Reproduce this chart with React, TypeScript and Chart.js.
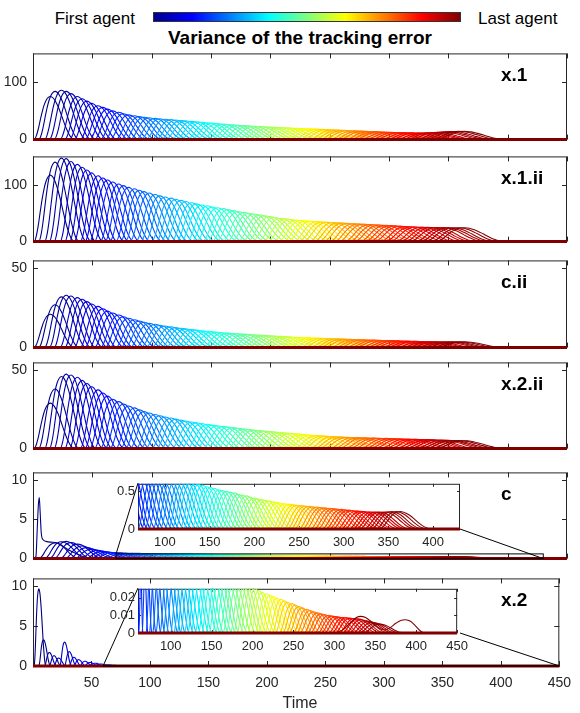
import React, { useEffect, useRef } from 'react';
import { Chart, registerables } from 'chart.js';

Chart.register(...registerables);

const FONT = "'Liberation Sans', Arial, Helvetica, sans-serif";
const AXIS_COLOR = '#262626';

// ---------- data ----------
// time at which each agent's error curve starts (80 agents)
const agentOnset = [
  1, 5, 10, 14, 18, 23, 27, 31, 35, 40,
  44, 48, 52, 57, 61, 65, 70, 74, 78, 82,
  87, 91, 95, 100, 104, 108, 112, 117, 121, 125,
  130, 134, 138, 143, 147, 151, 155, 160, 164, 168,
  173, 177, 181, 185, 190, 194, 198, 203, 207, 211,
  215, 220, 224, 228, 233, 237, 241, 245, 250, 254,
  258, 263, 267, 271, 276, 280, 284, 288, 293, 297,
  301, 306, 310, 314, 318, 323, 327, 331, 336, 340,
];
// duration of each agent's bump
const bumpWidth = [
  34, 34, 35, 35, 35, 36, 36, 36, 36, 37,
  37, 37, 38, 38, 38, 39, 39, 39, 39, 40,
  40, 40, 41, 41, 41, 42, 42, 42, 42, 43,
  43, 43, 44, 44, 44, 45, 45, 45, 45, 46,
  46, 46, 47, 47, 47, 48, 48, 48, 48, 49,
  49, 49, 50, 50, 50, 51, 51, 51, 51, 52,
  52, 52, 53, 53, 53, 54, 54, 54, 54, 55,
  55, 55, 56, 56, 56, 57, 57, 57, 57, 58,
];
const bumpWidthX2 = [
  10, 10, 10, 10, 10, 10, 10, 10, 10, 11,
  12, 13, 14, 15, 16, 17, 18, 19, 20, 21,
  22, 22, 23, 23, 24, 24, 25, 25, 26, 26,
  27, 27, 27, 28, 28, 29, 29, 30, 30, 31,
  31, 32, 32, 33, 33, 34, 34, 35, 35, 36,
  36, 37, 37, 37, 38, 38, 39, 39, 40, 40,
  41, 41, 42, 42, 43, 43, 44, 44, 45, 45,
  46, 46, 47, 47, 48, 48, 48, 49, 49, 50,
];
// normalised shape of one bump (start -> end)
const bumpProfile = [0, 0.08, 0.24, 0.45, 0.65, 0.81, 0.92, 0.98, 1.0, 0.98, 0.93, 0.85, 0.75, 0.63, 0.5, 0.37, 0.25, 0.15, 0.07, 0.02, 0];

// peak variance of each agent, per panel
const peakX1 = [
  75, 84, 86, 84, 80, 75, 71, 67, 63, 59,
  56, 53, 50, 47.5, 45, 43, 41.5, 40, 39, 38,
  37, 36.2, 35.5, 34.7, 34, 33.2, 32.5, 31.7, 31, 30.2,
  29.4, 28.6, 27.8, 27, 26.3, 25.6, 25, 24.4, 23.8, 23.3,
  22.8, 22.3, 21.8, 21.4, 21, 20.6, 20.2, 19.8, 19.4, 19,
  18.6, 18.2, 17.8, 17.4, 17, 16.6, 16.2, 15.8, 15.4, 15,
  14.6, 14.2, 13.8, 13.4, 13, 12.7, 12.4, 12.1, 11.9, 11.7,
  11.6, 11.6, 11.8, 12.2, 12.7, 13.2, 13.7, 14.1, 14.4, 14.5,
];
const peakX1ii = [
  117, 140, 147, 146, 141, 136, 131, 126, 121, 116,
  112, 108.5, 105, 101.5, 98.5, 95.5, 93, 90.5, 88, 85.5,
  83, 80.5, 78.5, 76.5, 74.5, 72.5, 70.5, 68.5, 66.5, 64.5,
  63, 61, 59.5, 58, 56.5, 54.5, 53, 51.5, 50, 48.5,
  47, 45.5, 44, 42.5, 41.2, 40, 39, 38, 37.3, 36.6,
  36, 35.4, 34.8, 34.2, 33.7, 33.2, 32.7, 32.2, 31.7, 31.2,
  30.7, 30.2, 29.7, 29.2, 28.7, 28.2, 27.7, 27.2, 26.7, 26.2,
  25.8, 25.4, 25.1, 24.9, 24.7, 24.6, 24.5, 24.4, 24.4, 24.4,
];
const peakCii = [
  21, 27, 32, 33, 32.5, 31.5, 30.5, 29, 27.5, 26,
  24.5, 23, 21.8, 20.6, 19.5, 18.5, 17.6, 16.8, 16, 15.3,
  14.7, 14.1, 13.6, 13.1, 12.6, 12.2, 11.8, 11.4, 11, 10.6,
  10.3, 10, 9.7, 9.4, 9.1, 8.9, 8.7, 8.5, 8.3, 8.1,
  7.9, 7.7, 7.5, 7.3, 7.1, 6.9, 6.7, 6.5, 6.4, 6.3,
  6.1, 6, 5.9, 5.7, 5.6, 5.5, 5.4, 5.3, 5.1, 5,
  4.9, 4.8, 4.7, 4.6, 4.5, 4.4, 4.3, 4.2, 4.1, 4,
  3.9, 3.8, 3.7, 3.7, 3.6, 3.6, 3.6, 3.6, 3.6, 3.6,
];
const peakX2ii = [
  29, 38, 46, 47.5, 47, 45.5, 43.5, 41.5, 39.5, 37.5,
  35.5, 33.5, 31.5, 30, 28.5, 27.2, 26, 24.8, 23.7, 22.7,
  21.8, 21, 20.2, 19.5, 18.8, 18.2, 17.6, 17, 16.5, 16,
  15.5, 15, 14.6, 14.2, 13.8, 13.4, 13, 12.6, 12.2, 11.8,
  11.5, 11.2, 10.9, 10.6, 10.3, 10, 9.7, 9.4, 9.1, 8.8,
  8.5, 8.3, 8.1, 7.9, 7.7, 7.5, 7.3, 7.2, 7.1, 7,
  6.9, 6.8, 6.7, 6.6, 6.5, 6.4, 6.3, 6.2, 6.1, 6,
  5.9, 5.8, 5.7, 5.6, 5.5, 5.4, 5.3, 5.2, 5.1, 5,
];
const peakC = [
  7.8, 2.0, 2.15, 2.2, 2.05, 1.85, 1.6, 1.4, 1.2, 1.05,
  0.92, 0.84, 0.78, 0.74, 0.71, 0.69, 0.68, 0.67, 0.66, 0.65,
  0.65, 0.64, 0.64, 0.63, 0.63, 0.62, 0.61, 0.6, 0.59, 0.58,
  0.56, 0.55, 0.54, 0.52, 0.51, 0.5, 0.49, 0.48, 0.46, 0.45,
  0.44, 0.42, 0.41, 0.4, 0.39, 0.38, 0.37, 0.36, 0.35, 0.34,
  0.335, 0.33, 0.32, 0.315, 0.31, 0.305, 0.3, 0.295, 0.29, 0.285,
  0.28, 0.275, 0.27, 0.265, 0.26, 0.255, 0.25, 0.245, 0.24, 0.235,
  0.23, 0.228, 0.226, 0.225, 0.225, 0.226, 0.228, 0.23, 0.23, 0.23,
];
const peakX2 = [
  9.7, 3.3, 1.7, 1.3, 1.0, 3.0, 1.8, 1.1, 0.8, 0.6,
  0.45, 0.35, 0.25, 0.16, 0.1, 0.07, 0.055, 0.045, 0.04, 0.037,
  0.035, 0.034, 0.033, 0.032, 0.031, 0.031, 0.03, 0.03, 0.03, 0.029,
  0.029, 0.029, 0.028, 0.028, 0.028, 0.027, 0.027, 0.027, 0.027, 0.027,
  0.027, 0.0265, 0.026, 0.0255, 0.025, 0.024, 0.023, 0.0222, 0.0214, 0.0206,
  0.0198, 0.019, 0.0182, 0.0174, 0.0166, 0.0158, 0.015, 0.0142, 0.0134, 0.0127,
  0.012, 0.0114, 0.0108, 0.0104, 0.01, 0.0096, 0.0093, 0.009, 0.0088, 0.0086,
  0.0084, 0.0082, 0.008, 0.0075, 0.007, 0.0065, 0.006, 0.0055, 0.005, 0.0075,
];
// curves with their own shape
const firstAgentCTime = [1, 2.5, 3.5, 4.5, 5.3, 6, 7, 8.5, 11, 15, 19, 23, 28, 34, 40, 48];
const firstAgentCValue = [0, 0.3, 3.5, 6.8, 7.8, 6, 3.2, 2.4, 2.2, 2.1, 2.05, 1.8, 1.3, 0.8, 0.4, 0];
const lastAgentX2Time = [300, 312, 320, 327, 332, 338, 346, 354, 361, 368, 375, 381, 387, 393, 399, 405, 410];
const lastAgentX2Value = [0, 0.0025, 0.006, 0.0088, 0.0094, 0.0088, 0.006, 0.003, 0.0017, 0.003, 0.0055, 0.0071, 0.0075, 0.0066, 0.004, 0.0012, 0];

const timeTicks = [0, 50, 100, 150, 200, 250, 300, 350, 400, 450];
const insetCTicks = [100, 150, 200, 250, 300, 350, 400];
const insetX2Ticks = [100, 150, 200, 250, 300, 350, 400, 450];
const T_MIN = 0;
const T_MAX = 450;

// ---------- layout ----------
const PLOT_LEFT = 33;
const PLOT_RIGHT = 567;
const CANVAS_W = 580;
const PAD = 12;
const X_AXIS_H = 34;
const LABEL_X = 501;
const LABEL_DY = 28;

type Custom = { agent: number; t: number[]; v: number[] };
type Box = { left: number; top: number; right: number; bottom: number };

const N = agentOnset.length;

function jet(v: number): string {
  const c = (x: number) => Math.round(255 * Math.max(0, Math.min(1, x)));
  return `rgb(${c(1.5 - Math.abs(4 * v - 3))},${c(1.5 - Math.abs(4 * v - 2))},${c(1.5 - Math.abs(4 * v - 1))})`;
}

function agentCurve(k: number, heights: number[], widths: number[], custom?: Custom) {
  const pts: { x: number; y: number }[] = [{ x: T_MIN, y: 0 }];
  if (custom && custom.agent === k) {
    custom.t.forEach((t, i) => pts.push({ x: t, y: custom.v[i] }));
  } else {
    const W = widths[k];
    const h = heights[k];
    const t0 = agentOnset[k];
    const n = bumpProfile.length - 1;
    bumpProfile.forEach((p, i) => pts.push({ x: t0 + (W * i) / n, y: h * p }));
  }
  pts.push({ x: T_MAX, y: 0 });
  return pts;
}

function buildDatasets(heights: number[], widths: number[], custom?: Custom) {
  return agentOnset.map((_, k) => ({
    data: agentCurve(k, heights, widths, custom),
    borderColor: jet(k / (N - 1)),
    borderWidth: 1.1,
    pointRadius: 0,
    fill: false,
    cubicInterpolationMode: 'monotone' as const,
    order: N - 1 - k,
  }));
}

const decoPlugin = {
  id: 'deco',
  beforeDatasetsDraw(chart: any, _a: any, o: any) {
    const { ctx, chartArea: a, scales } = chart;
    const x = scales.x;
    const y = scales.y;
    ctx.save();
    if (o.whiteBg) {
      ctx.fillStyle = '#ffffff';
      ctx.fillRect(a.left, a.top, a.right - a.left, a.bottom - a.top);
    }
    ctx.strokeStyle = AXIS_COLOR;
    ctx.lineWidth = 1;
    ctx.beginPath();
    (o.xTicks as number[]).forEach((v) => {
      const px = Math.round(x.getPixelForValue(v)) + 0.5;
      ctx.moveTo(px, a.bottom);
      ctx.lineTo(px, a.bottom - o.tickLen);
      ctx.moveTo(px, a.top);
      ctx.lineTo(px, a.top + o.tickLen);
    });
    (o.yTicks as number[]).forEach((v) => {
      const py = Math.round(y.getPixelForValue(v)) + 0.5;
      ctx.moveTo(a.left, py);
      ctx.lineTo(a.left + o.tickLen, py);
      ctx.moveTo(a.right, py);
      ctx.lineTo(a.right - o.tickLen, py);
    });
    ctx.stroke();
    ctx.strokeRect(a.left + 0.5, a.top + 0.5, a.right - a.left - 1, a.bottom - a.top - 1);
    ctx.restore();
  },
  afterDatasetsDraw(chart: any, _a: any, o: any) {
    const { ctx, chartArea: a, scales } = chart;
    const x = scales.x;
    const y = scales.y;
    ctx.save();
    // zero level shared by every agent outside its bump (last agent drawn on top)
    const y0 = y.getPixelForValue(0);
    ctx.strokeStyle = jet(1);
    ctx.lineWidth = 3;
    ctx.beginPath();
    ctx.moveTo(x.getPixelForValue(x.min), y0);
    ctx.lineTo(x.getPixelForValue(x.max), y0);
    ctx.stroke();
    if (o.zoom) {
      const z = o.zoom;
      const rx0 = x.getPixelForValue(z.x0);
      const rx1 = x.getPixelForValue(z.x1);
      const ry0 = y.getPixelForValue(0);
      const ry1 = y.getPixelForValue(z.y1);
      ctx.strokeStyle = '#000';
      ctx.lineWidth = 1;
      ctx.strokeRect(rx0, ry1, rx1 - rx0, ry0 - ry1);
      const b: Box = z.box;
      ctx.beginPath();
      ctx.moveTo(rx0, ry1);
      ctx.lineTo(b.left - o.canvasLeft, b.top - o.canvasTop);
      ctx.moveTo(rx1, ry0);
      ctx.lineTo(b.right - o.canvasLeft, b.bottom - o.canvasTop);
      ctx.stroke();
    }
    if (o.label) {
      ctx.fillStyle = '#000';
      ctx.font = `bold 19px ${FONT}`;
      ctx.textAlign = 'left';
      ctx.textBaseline = 'alphabetic';
      ctx.fillText(o.label, LABEL_X - o.canvasLeft, a.top + LABEL_DY);
    }
    ctx.restore();
  },
};

type PanelDef = {
  name: string;
  heights: number[];
  widths: number[];
  yMax: number;
  yTicks: number[];
  top: number;
  bottom: number;
  custom?: Custom;
  showTime?: boolean;
  inset?: { xMin: number; xMax: number; yMax: number; yTicks: number[]; xTicks: number[]; box: Box };
};

const PANELS: PanelDef[] = [
  { name: 'x.1', heights: peakX1, widths: bumpWidth, yMax: 150, yTicks: [0, 100], top: 51, bottom: 142 },
  { name: 'x.1.ii', heights: peakX1ii, widths: bumpWidth, yMax: 150, yTicks: [0, 100], top: 154, bottom: 244 },
  { name: 'c.ii', heights: peakCii, widths: bumpWidth, yMax: 55, yTicks: [0, 50], top: 258, bottom: 350 },
  { name: 'x.2.ii', heights: peakX2ii, widths: bumpWidth, yMax: 55, yTicks: [0, 50], top: 360, bottom: 451 },
  {
    name: 'c', heights: peakC, widths: bumpWidth, yMax: 11, yTicks: [0, 5, 10], top: 470, bottom: 561,
    custom: { agent: 0, t: firstAgentCTime, v: firstAgentCValue },
    inset: { xMin: 70, xMax: 430, yMax: 0.6, yTicks: [0, 0.5], xTicks: insetCTicks, box: { left: 138, top: 483, right: 460, bottom: 529 } },
  },
  {
    name: 'x.2', heights: peakX2, widths: bumpWidthX2, yMax: 11, yTicks: [0, 5, 10], top: 576, bottom: 666,
    custom: { agent: N - 1, t: lastAgentX2Time, v: lastAgentX2Value }, showTime: true,
    inset: { xMin: 60, xMax: 450, yMax: 0.025, yTicks: [0, 0.01, 0.02], xTicks: insetX2Ticks, box: { left: 138, top: 588, right: 460, bottom: 633 } },
  },
];

function ChartCanvas(props: { left: number; top: number; width: number; height: number; make: () => any }) {
  const ref = useRef<HTMLCanvasElement>(null);
  useEffect(() => {
    const chart = new Chart(ref.current as HTMLCanvasElement, props.make());
    return () => chart.destroy();
  }, []);
  return (
    <canvas
      ref={ref}
      width={props.width}
      height={props.height}
      style={{ position: 'absolute', left: props.left, top: props.top, width: props.width, height: props.height }}
    />
  );
}

function tickFont(size: number) {
  return { family: FONT, size };
}

function mainConfig(p: PanelDef, canvasTop: number) {
  const isBottom = !!p.showTime;
  return {
    type: 'line',
    data: { datasets: buildDatasets(p.heights, p.widths, p.custom) },
    options: {
      animation: false,
      responsive: false,
      devicePixelRatio: 1,
      events: [],
      parsing: false,
      normalized: true,
      layout: { autoPadding: false, padding: { top: PAD, bottom: isBottom ? 0 : PAD, left: 0, right: CANVAS_W - PLOT_RIGHT } },
      plugins: {
        legend: { display: false },
        tooltip: { enabled: false },
        deco: {
          xTicks: timeTicks,
          yTicks: p.yTicks,
          tickLen: 5,
          label: p.name,
          canvasTop,
          canvasLeft: 0,
          zoom: p.inset ? { x0: p.inset.xMin, x1: p.inset.xMax, y1: p.inset.yMax, box: p.inset.box } : null,
        },
      },
      scales: {
        x: {
          type: 'linear',
          min: T_MIN,
          max: T_MAX,
          display: isBottom,
          grid: { display: false, drawTicks: false },
          border: { display: false },
          afterBuildTicks: (s: any) => { s.ticks = timeTicks.map((v) => ({ value: v })); },
          afterFit: (s: any) => { s.height = isBottom ? X_AXIS_H : 0; },
          ticks: {
            font: tickFont(14), color: AXIS_COLOR, padding: 9, maxRotation: 0, autoSkip: false,
            callback: (v: number) => (v === 0 ? '' : String(v)),
          },
        },
        y: {
          type: 'linear',
          min: 0,
          max: p.yMax,
          grid: { display: false, drawTicks: false },
          border: { display: false },
          afterBuildTicks: (s: any) => { s.ticks = p.yTicks.map((v) => ({ value: v })); },
          afterFit: (s: any) => { s.width = PLOT_LEFT; },
          ticks: { font: tickFont(14), color: AXIS_COLOR, padding: 6, callback: (v: number) => String(v) },
        },
      },
    },
    plugins: [decoPlugin],
  };
}

const INSET_Y_W = 40;
const INSET_PAD_T = 10;
const INSET_PAD_R = 14;
const INSET_X_H = 24;

function insetConfig(p: PanelDef) {
  const ins = p.inset!;
  return {
    type: 'line',
    data: { datasets: buildDatasets(p.heights, p.widths, p.custom) },
    options: {
      animation: false,
      responsive: false,
      devicePixelRatio: 1,
      events: [],
      parsing: false,
      normalized: true,
      layout: { autoPadding: false, padding: { top: INSET_PAD_T, bottom: 0, left: 0, right: INSET_PAD_R } },
      plugins: {
        legend: { display: false },
        tooltip: { enabled: false },
        deco: { xTicks: ins.xTicks, yTicks: ins.yTicks, tickLen: 3, whiteBg: true, label: null, zoom: null, canvasTop: 0, canvasLeft: 0 },
      },
      scales: {
        x: {
          type: 'linear',
          min: ins.xMin,
          max: ins.xMax,
          grid: { display: false, drawTicks: false },
          border: { display: false },
          afterBuildTicks: (s: any) => { s.ticks = ins.xTicks.map((v) => ({ value: v })); },
          afterFit: (s: any) => { s.height = INSET_X_H; },
          ticks: { font: tickFont(13), color: AXIS_COLOR, padding: 6, maxRotation: 0, autoSkip: false, callback: (v: number) => String(v) },
        },
        y: {
          type: 'linear',
          min: 0,
          max: ins.yMax,
          grid: { display: false, drawTicks: false },
          border: { display: false },
          afterBuildTicks: (s: any) => { s.ticks = ins.yTicks.map((v) => ({ value: v })); },
          afterFit: (s: any) => { s.width = INSET_Y_W; },
          ticks: { font: tickFont(13), color: AXIS_COLOR, padding: 3, callback: (v: number) => String(v) },
        },
      },
    },
    plugins: [decoPlugin],
  };
}

const JET_GRADIENT =
  'linear-gradient(to right, rgb(0,0,143) 0%, rgb(0,0,255) 12.5%, rgb(0,255,255) 37.5%, rgb(255,255,0) 62.5%, rgb(255,0,0) 87.5%, rgb(128,0,0) 100%)';

function textTop(baseline: number, size: number) {
  return baseline - 0.8465 * size;
}

export default function App() {
  return (
    <div style={{ position: 'absolute', left: 0, top: 0, width: 580, height: 713, background: '#fff', overflow: 'hidden', fontFamily: FONT }}>
      <div style={{ position: 'absolute', left: 0, width: 135, textAlign: 'right', top: textTop(24, 17), fontSize: 17, lineHeight: '17px', color: '#000', whiteSpace: 'nowrap' }}>
        First agent
      </div>
      <div style={{ position: 'absolute', left: 153, top: 12, width: 308, height: 10, background: JET_GRADIENT, boxSizing: 'border-box', border: '1px solid #333' }} />
      <div style={{ position: 'absolute', left: 478, top: textTop(24, 17), fontSize: 17, lineHeight: '17px', color: '#000', whiteSpace: 'nowrap' }}>
        Last agent
      </div>
      <div style={{ position: 'absolute', left: 0, width: 600, textAlign: 'center', top: textTop(44, 19), fontSize: 19, lineHeight: '19px', fontWeight: 'bold', color: '#000', whiteSpace: 'nowrap' }}>
        Variance of the tracking error
      </div>
      {PANELS.map((p) => {
        const canvasTop = p.top - PAD;
        const h = p.bottom - p.top + PAD + (p.showTime ? X_AXIS_H : PAD);
        return (
          <ChartCanvas key={p.name} left={0} top={canvasTop} width={CANVAS_W} height={h} make={() => mainConfig(p, canvasTop)} />
        );
      })}
      {PANELS.filter((p) => p.inset).map((p) => {
        const b = p.inset!.box;
        const left = b.left - INSET_Y_W;
        const top = b.top - INSET_PAD_T;
        const w = b.right + INSET_PAD_R - left;
        const h = b.bottom - b.top + INSET_PAD_T + INSET_X_H;
        return <ChartCanvas key={p.name + '-inset'} left={left} top={top} width={w} height={h} make={() => insetConfig(p)} />;
      })}
      <div style={{ position: 'absolute', left: 0, width: 600, textAlign: 'center', top: textTop(709, 16), fontSize: 16, lineHeight: '16px', color: '#262626', whiteSpace: 'nowrap' }}>
        Time
      </div>
    </div>
  );
}
